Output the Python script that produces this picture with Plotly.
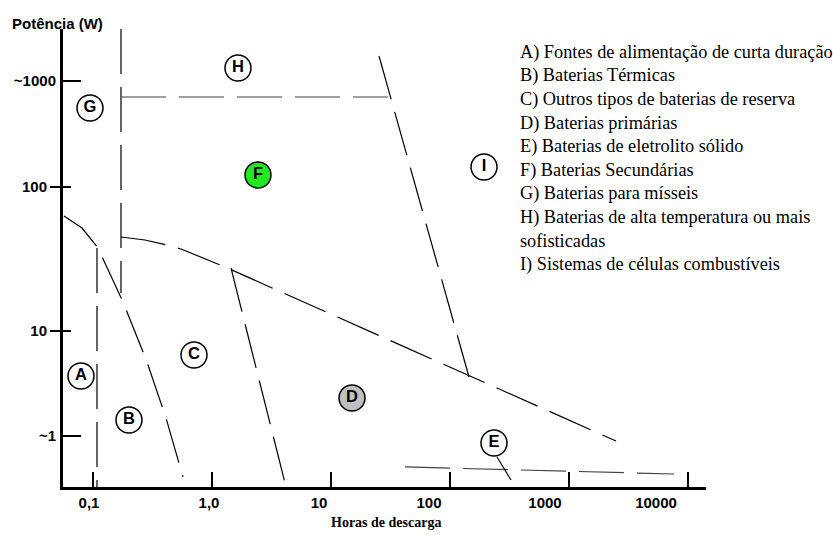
import plotly.graph_objects as go

# ---- Region markers (discharge hours, power in W) ----
region_ids = ["A", "B", "C", "D", "E", "F", "G", "H", "I"]
region_hours = [0.0788, 0.1995, 0.702, 14.93, 232.9, 2.421, 0.0938, 1.644, 192.0]
region_power = [4.870, 2.409, 6.813, 3.425, 1.668, 121.2, 353.7, 670.6, 137.7]
region_fill = ["white", "white", "white", "#c0c0c0", "white", "#22e822", "white", "white", "white"]

region_names = [
    "A) Fontes de alimentação de curta duração",
    "B) Baterias Térmicas",
    "C) Outros tipos de baterias de reserva",
    "D) Baterias primárias",
    "E) Baterias de eletrolito sólido",
    "F) Baterias Secundárias",
    "G) Baterias para mísseis",
    "H) Baterias de alta temperatura ou mais",
    "sofisticadas",
    "I) Sistemas de células combustíveis",
]

# ---- Region boundaries ----
# A | B
ab_hours = [0.1074, 0.1074]
ab_power = [37.71, 0.8254]
# G/A upper edge bending down into the B | C boundary
bc_hours = [0.0567, 0.0804, 0.1095, 0.1777, 0.2827, 0.4083, 0.5673]
bc_power = [62.9, 51.9, 37.71, 15.90, 6.09, 2.488, 0.9685]
# G | F vertical
gf_hours = [0.1709, 0.1709]
gf_power = [1251, 18.36]
# H | F horizontal
hf_hours = [0.1709, 29.96]
hf_power = [421.7, 421.7]
# H,F | I
fi_hours = [25.17, 143.6]
fi_power = [812.3, 4.793]
# F | C,D
fd_hours = [0.1709, 0.2720, 0.4163, 0.5458, 1.279, 2469]
fd_power = [44.97, 42.84, 39.56, 37.11, 27.83, 1.722]
# C | D
cd_hours = [1.436, 4.163]
cd_power = [27.38, 0.8254]
# E band
e_hours = [41.63, 7583]
e_power = [1.137, 1.016]
# E pointer
ep_hours = [246.9, 323.7]
ep_power = [1.334, 0.9232]

# ---- Axis ticks ----
x_tick_hours = [0.1, 1, 10, 100, 1000, 10000]
x_tick_text = ["0,1", "1,0", "10", "100", "1000", "10000"]
x_label_hours = [0.092, 0.938, 7.88, 66.2, 625, 5353]  # where each label is printed

y_major_power = [10, 100]
y_major_text = ["10", "100"]
y_approx_power = [1.866, 544.6]
y_approx_text = ["~1", "~1000"]

SANS = "Liberation Sans, Arial, sans-serif"
SERIF = "Liberation Serif, Times New Roman, serif"
DASH = "45px,13px"

fig = go.Figure()

dashed = [
    (ab_hours, ab_power, "black"),
    (bc_hours, bc_power, "black"),
    (gf_hours, gf_power, "black"),
    (hf_hours, hf_power, "#444444"),
    (fi_hours, fi_power, "black"),
    (fd_hours, fd_power, "black"),
    (cd_hours, cd_power, "black"),
    (e_hours, e_power, "#444444"),
]
for xs, ys, col in dashed:
    fig.add_trace(go.Scatter(x=xs, y=ys, mode="lines",
                             line=dict(color=col, width=1.2, dash=DASH),
                             hoverinfo="skip", showlegend=False))

fig.add_trace(go.Scatter(x=ep_hours, y=ep_power, mode="lines",
                         line=dict(color="black", width=1.2),
                         hoverinfo="skip", showlegend=False))

fig.add_trace(go.Scatter(
    x=region_hours, y=region_power, yaxis="y2",
    mode="markers+text", text=[f"<b>{r}</b>" for r in region_ids],
    textposition="middle center",
    textfont=dict(family=SANS, size=16.5, color="black"),
    marker=dict(size=26, color=region_fill, line=dict(color="black", width=1.5)),
    cliponaxis=False, hoverinfo="skip", showlegend=False))

x_range = [-1.2546, 4.1487]
y_range = [-0.0833, 3.0972]
tick_font = dict(family=SANS, size=15, color="black", weight="bold")

fig.update_layout(
    width=833, height=535,
    margin=dict(l=63, r=127, t=29, b=48),
    paper_bgcolor="white", plot_bgcolor="white",
    hovermode=False,
    xaxis=dict(
        type="log", range=x_range,
        showline=True, linewidth=3, linecolor="black",
        showgrid=False, zeroline=False,
        tickmode="array", tickvals=x_label_hours, ticktext=x_tick_text,
        ticks="", tickfont=tick_font,
        minor=dict(tickmode="array", tickvals=x_tick_hours, ticks="inside",
                   ticklen=15, tickwidth=2, tickcolor="black", showgrid=False),
    ),
    yaxis=dict(
        type="log", range=y_range,
        showline=True, linewidth=3, linecolor="black",
        showgrid=False, zeroline=False,
        tickmode="array", tickvals=y_major_power, ticktext=y_major_text,
        ticks="outside", ticklen=10, tickwidth=2, tickcolor="black",
        tickfont=tick_font,
        minor=dict(tickmode="array", tickvals=y_major_power, ticks="inside",
                   ticklen=8, tickwidth=2, tickcolor="black", showgrid=False),
    ),
    yaxis2=dict(
        type="log", range=y_range, overlaying="y", side="left", anchor="x",
        showline=False, showgrid=False, zeroline=False,
        tickmode="array", tickvals=y_approx_power, ticktext=y_approx_text,
        ticks="inside", ticklen=18, tickwidth=2, tickcolor="black",
        ticklabelstandoff=6, tickfont=tick_font,
    ),
)

annotations = [
    dict(text="<b>Potência (W)</b>", x=-0.0093, y=1.0131, xref="paper", yref="paper",
         xanchor="center", yanchor="middle", showarrow=False,
         font=dict(family=SANS, size=15, color="black")),
    dict(text="<b>Horas de descarga</b>", x=0.5023, y=-0.0786, xref="paper", yref="paper",
         xanchor="center", yanchor="middle", showarrow=False,
         font=dict(family=SERIF, size=14, color="black")),
]
legend_top, legend_step = 0.9491, 0.05153
for i, name in enumerate(region_names):
    annotations.append(dict(
        text=name, x=0.7076, y=legend_top - i * legend_step,
        xref="paper", yref="paper", xanchor="left", yanchor="middle",
        showarrow=False, font=dict(family=SERIF, size=18.3, color="black")))
fig.update_layout(annotations=annotations)

fig.write_html("out.html")
